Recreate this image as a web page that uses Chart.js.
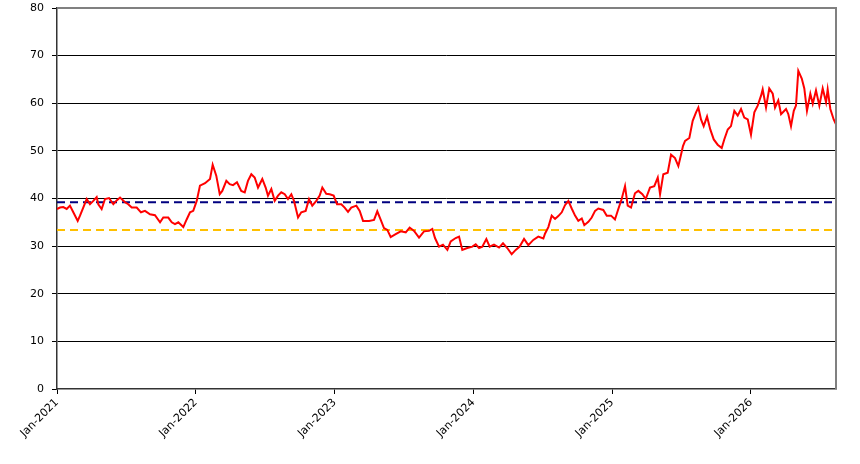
<!DOCTYPE html>
<html lang="en">
<head>
<meta charset="UTF-8">
<title>Price history</title>
<script src="https://cdn.jsdelivr.net/npm/chart.js@4"></script>
<style>
    html, body { margin: 0; padding: 0; background: #fff; }
    .wrap { width: 860px; height: 464px; }
</style>
</head>
<body>
<div class="wrap"><canvas id="chart"></canvas></div>
<script>
// months since Jan-2021 and the value read at that point
const months = [
    0.00, 0.26, 0.54, 0.84, 1.12, 1.41, 1.79, 1.99, 2.27, 2.57, 2.85, 3.14, 3.43, 3.57, 3.86,
    4.15, 4.50, 4.87, 5.16, 5.45, 5.88, 6.16, 6.46, 6.89, 7.26, 7.61, 8.04, 8.47, 8.91, 9.19,
    9.62, 9.92, 10.20, 10.49, 10.92, 11.21, 11.50, 11.78, 12.08, 12.36, 12.80, 13.23, 13.46,
    13.77, 14.07, 14.29, 14.64, 14.93, 15.22, 15.56, 15.93, 16.23, 16.51, 16.80, 17.09, 17.38, 17.75, 18.04,
    18.24, 18.53, 18.82, 19.11, 19.39, 19.69, 19.97, 20.26, 20.49, 20.84, 21.12, 21.50, 21.79, 22.07, 22.42,
    22.71, 22.94, 23.28, 23.58, 23.92, 24.21, 24.58, 24.87, 25.16, 25.44, 25.88, 26.17, 26.46, 26.74,
    26.98, 27.41, 27.69, 27.99, 28.27, 28.56, 28.85, 29.28, 29.72, 30.15, 30.49, 30.87, 31.30, 31.73, 32.16,
    32.45, 32.68, 33.03, 33.37, 33.75, 34.04, 34.47, 34.76, 35.04, 35.47, 35.91, 36.20, 36.49, 36.77, 37.12,
    37.41, 37.78, 38.22, 38.56, 38.93, 39.31, 39.66, 40.00, 40.38, 40.75, 41.18, 41.61, 42.05,
    42.19, 42.48, 42.77, 43.06, 43.34, 43.64, 43.92, 44.21, 44.50, 44.79, 45.07, 45.37, 45.59, 45.94, 46.23,
    46.52, 46.80, 47.23, 47.53, 47.90, 48.24, 48.53, 48.82, 49.11, 49.34, 49.63, 49.97, 50.26, 50.61, 50.90,
    51.27, 51.64, 51.94, 52.14, 52.42, 52.80, 53.09, 53.43, 53.72, 53.95, 54.12,
    54.30, 54.67, 54.96, 55.25, 55.45, 55.68, 55.91, 56.20, 56.48, 56.78, 57.12, 57.47, 57.69, 57.99, 58.27,
    58.56, 58.85, 59.14, 59.42, 59.72, 60.00, 60.29, 60.58, 60.87, 61.01, 61.30, 61.58, 61.88, 62.08, 62.36,
    62.60, 63.03, 63.23, 63.46, 63.70, 63.89, 64.09, 64.39, 64.61, 64.84, 65.13, 65.34, 65.62, 65.91, 66.20,
    66.49, 66.63, 66.86, 67.15, 67.35
];
const values = [
    37.8, 38.1, 38.2, 37.8, 38.5, 37.1, 35.3, 36.4, 38.1, 39.9, 38.8, 39.5, 40.3, 38.8, 37.8,
    39.9, 40.1, 38.8, 39.6, 40.2, 39.2, 38.8, 38.1, 38.1, 37.1, 37.4, 36.7, 36.5, 35.0, 36.0,
    36.0, 35.0, 34.6, 35.0, 34.0, 35.6, 37.1, 37.4, 39.5, 42.7, 43.2, 44.1, 47.1,
    44.8, 40.9, 41.6, 43.7, 43.0, 42.8, 43.4, 41.6, 41.3, 43.7, 45.1, 44.4, 42.3, 44.1, 42.3,
    40.6, 42.0, 39.5, 40.6, 41.3, 40.9, 39.9, 40.9, 39.5, 36.0, 37.1, 37.4, 39.9, 38.5, 39.5,
    40.6, 42.3, 41.0, 40.9, 40.6, 38.8, 38.8, 38.1, 37.2, 38.1, 38.5, 37.4, 35.3, 35.3,
    35.3, 35.5, 37.3, 35.5, 33.8, 33.4, 31.9, 32.5, 33.1, 32.9, 33.9, 33.2, 31.8, 33.1, 33.2,
    33.6, 31.7, 29.9, 30.3, 29.2, 31.0, 31.7, 32.0, 29.2, 29.6, 29.9, 30.4, 29.6, 29.9, 31.5,
    29.9, 30.3, 29.7, 30.6, 29.6, 28.3, 29.2, 29.9, 31.5, 30.2, 31.3, 32.0, 31.6,
    32.6, 34.0, 36.4, 35.7, 36.3, 37.1, 38.6, 39.5, 37.9, 36.4, 35.3, 35.8, 34.4, 35.1, 36.0,
    37.4, 37.9, 37.6, 36.4, 36.4, 35.6, 37.8, 39.9, 42.6, 38.5, 38.1, 41.1, 41.6, 40.9, 39.9,
    42.3, 42.6, 44.4, 40.9, 45.1, 45.4, 49.2, 48.5, 46.8, 49.2, 51.0,
    52.1, 52.7, 56.3, 58.1, 59.1, 56.6, 55.2, 57.2, 54.5, 52.4, 51.3, 50.6, 52.4, 54.5, 55.2,
    58.4, 57.4, 58.8, 57.0, 56.6, 53.4, 58.1, 59.5, 61.6, 62.9, 59.1, 63.1, 62.0, 59.1, 60.6,
    57.7, 58.8, 57.7, 55.2, 58.4, 59.5, 66.8, 65.2, 63.1, 58.4, 62.0, 59.9, 62.7, 59.5, 63.1,
    60.2, 62.9, 58.8, 56.6, 55.6
];
const tickLabels = ['Jan-2021', 'Jan-2022', 'Jan-2023', 'Jan-2024', 'Jan-2025', 'Jan-2026'];
const upperLevel = 39.2;
const lowerLevel = 33.4;
const lastMonth = 67.35;

const font = { family: 'DejaVu Sans', size: 11 };

// grey frame on top and right, like the original plot area
const frame = {
    id: 'frame',
    afterDraw(chart) {
        const { ctx, chartArea: a } = chart;
        ctx.save();
        ctx.strokeStyle = '#808080';
        ctx.lineWidth = 2;
        ctx.beginPath();
        ctx.moveTo(a.left, a.top);
        ctx.lineTo(a.right, a.top);
        ctx.lineTo(a.right, a.bottom);
        ctx.stroke();
        ctx.restore();
    }
};

const level = (y) => [{ x: 0, y: y }, { x: lastMonth, y: y }];

new Chart(document.getElementById('chart'), {
    type: 'line',
    data: {
        datasets: [
            {
                data: months.map((m, i) => ({ x: m, y: values[i] })),
                borderColor: '#ff0000',
                borderWidth: 2,
                pointRadius: 0,
                tension: 0,
                order: 0
            },
            {
                data: level(upperLevel),
                borderColor: '#000080',
                borderWidth: 2,
                borderDash: [8, 5],
                pointRadius: 0,
                order: 1
            },
            {
                data: level(lowerLevel),
                borderColor: '#ffc000',
                borderWidth: 2,
                borderDash: [8, 5],
                pointRadius: 0,
                order: 1
            }
        ]
    },
    options: {
        responsive: true,
        maintainAspectRatio: false,
        animation: false,
        layout: { padding: { top: 8, right: 24, left: 0, bottom: 0 } },
        plugins: { legend: { display: false }, tooltip: { enabled: false } },
        scales: {
            x: {
                type: 'linear',
                min: 0,
                max: lastMonth,
                afterBuildTicks: (s) => { s.ticks = tickLabels.map((_, i) => ({ value: i * 12 })); },
                afterFit: (s) => { s.height = 75; },
                ticks: {
                    callback: (v, i) => tickLabels[i],
                    minRotation: 45,
                    maxRotation: 45,
                    padding: 2,
                    color: '#000',
                    font: font
                },
                grid: { drawOnChartArea: false, tickLength: 5, tickColor: '#000' },
                border: { color: '#333', width: 1.5 }
            },
            y: {
                min: 0,
                max: 80,
                afterFit: (s) => { s.width = 57; s.paddingTop = 0; s.paddingBottom = 0; },
                ticks: { stepSize: 10, padding: 8, color: '#000', font: font },
                grid: {
                    color: (c) => (c.tick.value === 0 || c.tick.value === 80) ? 'rgba(0,0,0,0)' : '#000',
                    tickColor: '#000',
                    tickLength: 5,
                    lineWidth: 1
                },
                border: { color: '#333', width: 1.5 }
            }
        }
    },
    plugins: [frame]
});
</script>
</body>
</html>
